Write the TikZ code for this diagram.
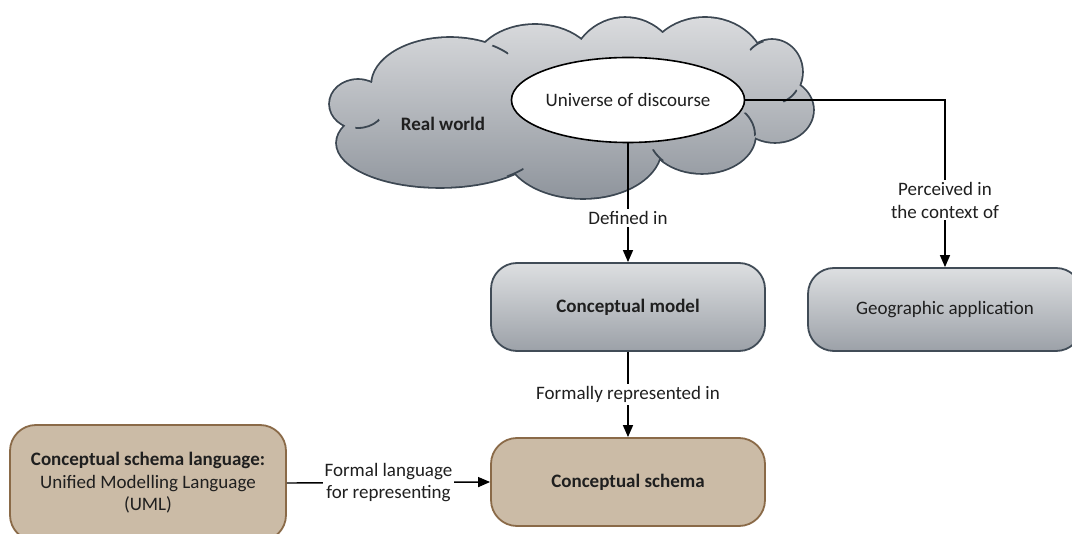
\documentclass[tikz,border=0pt]{standalone}
\usepackage{fontspec}
\setmainfont{Carlito}
\usetikzlibrary{shapes.geometric,arrows.meta}

\definecolor{cloudtop}{HTML}{DFE0E2}
\definecolor{cloudbot}{HTML}{8C929A}
\definecolor{cloudline}{HTML}{3C4752}
\definecolor{boxtop}{HTML}{DDDFE1}
\definecolor{boxbot}{HTML}{9CA1A8}
\definecolor{boxline}{HTML}{414C57}
\definecolor{tanfill}{HTML}{CBBBA6}
\definecolor{tanline}{HTML}{8A6A48}

\tikzset{
  x=1pt, y=-1pt,
  every node/.style={font=\fontsize{19}{22.5}\selectfont, text=black!88},
  graybox/.style={rectangle, rounded corners=26pt, draw=boxline, line width=1.8pt,
    top color=boxtop, bottom color=boxbot, minimum width=274pt, inner sep=0pt},
  tanbox/.style={rectangle, rounded corners=26pt, draw=tanline, line width=1.8pt,
    fill=tanfill, minimum width=274pt, inner sep=0pt, align=center},
  conn/.style={line width=1.4pt, draw=black, -{Triangle[length=12pt,width=10pt]}},
  lbl/.style={fill=white, inner sep=2pt, align=center},
  hook/.style={draw=cloudline, line width=1.8pt},
}

% lobes of the cloud: centre x / centre y / x radius / y radius
\def\lobes{358/104/28/24, 450/85/78/47, 535/70/62/45, 625/75/55/57,
  705/70/60/52, 772/72/30/32, 775/110/38/32, 702/135/53/38,
  583/148/78/50, 440/143/103/44, 570/100/190/55}

% inner stroke: part of one lobe's outline seen through a small window
% #1,#2 window centre, #3 window radius, #4..#7 lobe
\newcommand\cloudhook[7]{%
  \begin{scope}
    \clip (#1,#2) circle [radius=#3];
    \draw[hook] (#4,#5) ellipse [x radius=#6, y radius=#7];
  \end{scope}}

\begin{document}
\begin{tikzpicture}
\useasboundingbox (0,0) rectangle (1072,534);

% cloud outline: thick strokes of every lobe, half covered by the fill below
\foreach \cx/\cy/\rx/\ry in \lobes
  \draw[cloudline, line width=3.6pt] (\cx,\cy) ellipse [x radius=\rx, y radius=\ry];
\begin{scope}
  \clip foreach \cx/\cy/\rx/\ry in \lobes
    {(\cx,\cy) ellipse [x radius=\rx, y radius=\ry]};
  \shade[top color=cloudtop, bottom color=cloudbot] (320,5) rectangle (820,205);
\end{scope}
% small inner strokes where lobes meet
\cloudhook{368}{126}{13}{358}{104}{28}{24}
\cloudhook{500}{50}{9}{450}{85}{78}{47}
\cloudhook{757}{46}{8}{772}{72}{30}{32}
\cloudhook{790}{96}{9}{772}{72}{30}{32}
\cloudhook{655}{158}{9}{702}{135}{53}{38}
\cloudhook{515}{172}{9}{440}{143}{103}{44}
\cloudhook{748}{125}{13}{702}{135}{53}{38}

\node[font=\fontsize{19}{22.5}\selectfont\bfseries] (rw) at (443,124) {Real world};

\node[ellipse, draw=black, line width=1.6pt, fill=white, minimum width=224pt,
  minimum height=85pt, inner sep=0pt] (uod) at (628,100) {Universe of discourse};

\node[graybox, minimum height=88pt, font=\fontsize{19}{22.5}\selectfont\bfseries]
  (cm) at (628,307) {Conceptual model};
\node[graybox, minimum height=83pt] (geo) at (945,309.5) {Geographic application};

\node[tanbox, minimum height=88pt, font=\fontsize{19}{22.5}\selectfont\bfseries]
  (cs) at (628,482) {Conceptual schema};
\node[tanbox, minimum width=276pt, minimum height=116pt] (csl) at (148,483)
  {\textbf{Conceptual schema language:}\\Unified Modelling Language\\(UML)};

\draw[conn] (uod.south) -- node[lbl, pos=0.63] {Defined in} (cm.north);
\draw[conn] (uod.east) -| node[lbl, pos=0.8] {Perceived in\\the context of} (geo.north);
\draw[conn] (cm.south) -- node[lbl] {Formally represented in} (cs.north);
\draw[conn] (csl.east) -- node[lbl] {Formal language\\for representing} (cs.west);
\end{tikzpicture}
\end{document}
